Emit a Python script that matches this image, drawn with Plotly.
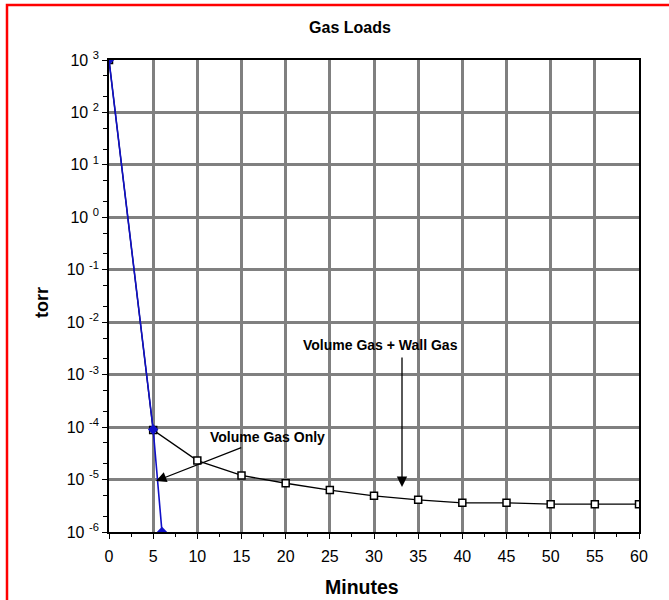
import plotly.graph_objects as go

# Data
minutes_wall = [0, 5, 10, 15, 20, 25, 30, 35, 40, 45, 50, 55, 60]
torr_wall = [1000, 8.8e-5, 2.3e-5, 1.2e-5, 8.5e-6, 6.3e-6, 4.9e-6, 4.1e-6, 3.6e-6, 3.6e-6, 3.4e-6, 3.4e-6, 3.4e-6]
minutes_vol = [0, 5, 6]
torr_vol = [1000, 9e-5, 1e-6]

x_ticks = list(range(0, 61, 5))
y_tick_exps = list(range(-6, 4))

FONT = "Liberation Sans, Arial, sans-serif"

fig = go.Figure()
fig.add_trace(go.Scatter(
    x=minutes_wall, y=torr_wall, mode="lines+markers", name="Volume Gas + Wall Gas",
    line=dict(color="black", width=1.3),
    marker=dict(symbol="square", size=7, color="white", line=dict(color="black", width=1.5)),
))
fig.add_trace(go.Scatter(
    x=minutes_vol, y=torr_vol, mode="lines+markers", name="Volume Gas Only",
    line=dict(color="#1010C8", width=1.6),
    marker=dict(symbol="diamond", size=8, color="#1010C8"),
))

axis_common = dict(
    showline=True, linecolor="black", linewidth=1.8, mirror=True,
    gridcolor="#808080", gridwidth=3,
    ticks="outside", tickcolor="black", ticklen=5, tickwidth=1.2,
    tickfont=dict(family=FONT, size=16, color="black"),
    zeroline=False, automargin=False,
)

fig.update_layout(
    width=669, height=600,
    paper_bgcolor="white", plot_bgcolor="white",
    margin=dict(l=109, r=30, t=60, b=68),
    showlegend=False,
    title=dict(text="<b>Gas Loads</b>", xref="container", x=350 / 669, xanchor="center",
               yref="container", y=1 - 27 / 600, yanchor="middle",
               font=dict(family=FONT, size=16, color="black")),
    xaxis=dict(
        range=[0, 60], tickvals=x_ticks, ticktext=[str(v) for v in x_ticks],
        minor=dict(dtick=2.5, tick0=0, ticks="outside", ticklen=3, tickcolor="black", showgrid=False),
        ticklabelstandoff=4,
        **axis_common,
    ),
    yaxis=dict(
        type="log", range=[-6, 3],
        tickvals=[10 ** e for e in y_tick_exps],
        ticktext=[f"10 <sup>{e}</sup>" if e >= 0 else f"10 <sup>-{-e}</sup>" for e in y_tick_exps],
        minor=dict(ticks="outside", ticklen=4, tickcolor="black", showgrid=False),
        **axis_common,
    ),
    shapes=[dict(type="rect", xref="paper", yref="paper",
                 x0=(7 - 109) / 530, x1=1.3, y0=-0.3, y1=(532 - 5) / 472,
                 line=dict(color="red", width=2.5), fillcolor="rgba(0,0,0,0)")],
)

# Axis titles
fig.add_annotation(xref="paper", yref="paper", x=(361.7 - 109) / 530, y=(532 - 587) / 472,
                   xanchor="center", yanchor="middle",
                   text="<b>Minutes</b>", showarrow=False,
                   font=dict(family=FONT, size=19.5, color="black"))
fig.add_annotation(xref="paper", yref="paper", x=(41.5 - 109) / 530, y=(532 - 302.5) / 472,
                   xanchor="center", yanchor="middle",
                   text="<b>torr</b>", showarrow=False, textangle=-90,
                   font=dict(family=FONT, size=18, color="black"))

# Annotations: text labels
fig.add_annotation(x=30.7, y=-2.434, text="<b>Volume Gas + Wall Gas</b>", showarrow=False,
                   xanchor="center", yanchor="middle",
                   font=dict(family=FONT, size=14, color="black"))
fig.add_annotation(x=17.9, y=-4.183, text="<b>Volume Gas Only</b>", showarrow=False,
                   xanchor="center", yanchor="middle",
                   font=dict(family=FONT, size=14, color="black"))
# Arrows
fig.add_annotation(x=33.17, y=-5.142, ax=33.17, ay=-2.644, axref="x", ayref="y",
                   text="", showarrow=True, arrowhead=2, arrowsize=1.6, arrowwidth=1.3, arrowcolor="black")
fig.add_annotation(x=5.32, y=-5.027, ax=15.14, ay=-4.38, axref="x", ayref="y",
                   text="", showarrow=True, arrowhead=2, arrowsize=1.6, arrowwidth=1.3, arrowcolor="black")

fig.write_html("out.html", config={"displayModeBar": False},
               post_script="document.body.style.margin='0';")
